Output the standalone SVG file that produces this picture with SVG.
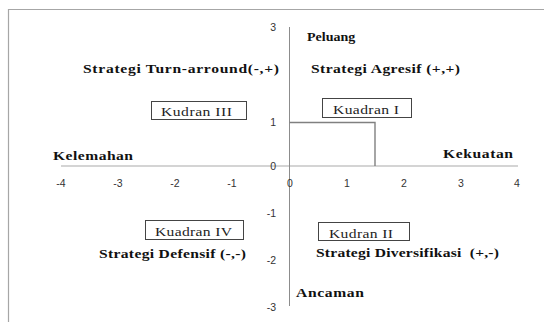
<svg xmlns="http://www.w3.org/2000/svg" width="544" height="322" viewBox="0 0 544 322">
<style>
.b{font-family:"Liberation Serif","Times New Roman",serif;font-weight:bold;font-size:12.5px;fill:#111}
.k{font-family:"Liberation Serif","Times New Roman",serif;font-size:12.5px;fill:#222}
.t{font-family:"Liberation Sans",Arial,sans-serif;font-size:10.5px;fill:#333}
.box{fill:#fff;stroke:#444;stroke-width:1}
</style>
<rect width="544" height="322" fill="#fff"/>
<path d="M8.5 322V9.5H544" fill="none" stroke="#a6a6a6" stroke-width="1.2"/>
<g id="axes">
<line x1="61" y1="166" x2="518" y2="166" stroke="#d4d4d4" stroke-width="2"/>
<line x1="289.5" y1="27" x2="289.5" y2="306" stroke="#8c8c8c" stroke-width="1"/>
</g>
<g id="connectors">
<path d="M289.5 122.5H375V166" fill="none" stroke="#808080" stroke-width="1.4"/>
</g>
<g id="xticks" text-anchor="middle">
<text class="t" x="61" y="187">-4</text>
<text class="t" x="118" y="187">-3</text>
<text class="t" x="175" y="187">-2</text>
<text class="t" x="232" y="187">-1</text>
<text class="t" x="290" y="187">0</text>
<text class="t" x="347" y="187">1</text>
<text class="t" x="404" y="187">2</text>
<text class="t" x="461" y="187">3</text>
<text class="t" x="517" y="187">4</text>
</g>
<g id="yticks" text-anchor="end">
<text class="t" x="276" y="31">3</text>
<text class="t" x="276" y="126">1</text>
<text class="t" x="276" y="170">0</text>
<text class="t" x="276" y="217">-1</text>
<text class="t" x="276" y="264">-2</text>
<text class="t" x="276" y="311">-3</text>
</g>
<g id="peluang"><text class="b" transform="translate(307,41) scale(1.12,1)">Peluang</text></g>
<g id="ancaman"><text class="b" transform="translate(296,297) scale(1.25,1)" textLength="54.4" lengthAdjust="spacing">Ancaman</text></g>
<g id="kelemahan"><text class="b" transform="translate(53,160) scale(1.25,1)" textLength="64" lengthAdjust="spacing">Kelemahan</text></g>
<g id="kekuatan"><text class="b" transform="translate(443,158) scale(1.25,1)" textLength="56" lengthAdjust="spacing">Kekuatan</text></g>
<g id="strategi-agresif"><text class="b" transform="translate(311,73) scale(1.25,1)" textLength="119.2" lengthAdjust="spacing">Strategi Agresif (+,+)</text></g>
<g id="strategi-turn"><text class="b" transform="translate(83,73) scale(1.25,1)" textLength="156.8" lengthAdjust="spacing">Strategi Turn-arround(-,+)</text></g>
<g id="strategi-defensif"><text class="b" transform="translate(99,258) scale(1.25,1)" textLength="117.6" lengthAdjust="spacing">Strategi Defensif (-,-)</text></g>
<g id="strategi-diversifikasi"><text class="b" transform="translate(316,257) scale(1.25,1)" textLength="146.4" lengthAdjust="spacing" xml:space="preserve">Strategi Diversifikasi  (+,-)</text></g>
<g id="kuadran-3"><rect class="box" x="151.5" y="101.5" width="95" height="18"/><text class="k" transform="translate(161,115.5) scale(1.25,1)" textLength="56.8" lengthAdjust="spacing">Kudran III</text></g>
<g id="kuadran-1"><rect class="box" x="322.5" y="98.5" width="89" height="19"/><text class="k" transform="translate(333,113.5) scale(1.25,1)" textLength="52.8" lengthAdjust="spacing">Kuadran I</text></g>
<g id="kuadran-4"><rect class="box" x="145.5" y="220.5" width="98" height="19"/><text class="k" transform="translate(155,235.5) scale(1.25,1)" textLength="61.6" lengthAdjust="spacing">Kuadran IV</text></g>
<g id="kuadran-2"><rect class="box" x="318.5" y="222.5" width="91" height="18"/><text class="k" transform="translate(329,237.5) scale(1.25,1)" textLength="51.2" lengthAdjust="spacing">Kudran II</text></g>
</svg>
